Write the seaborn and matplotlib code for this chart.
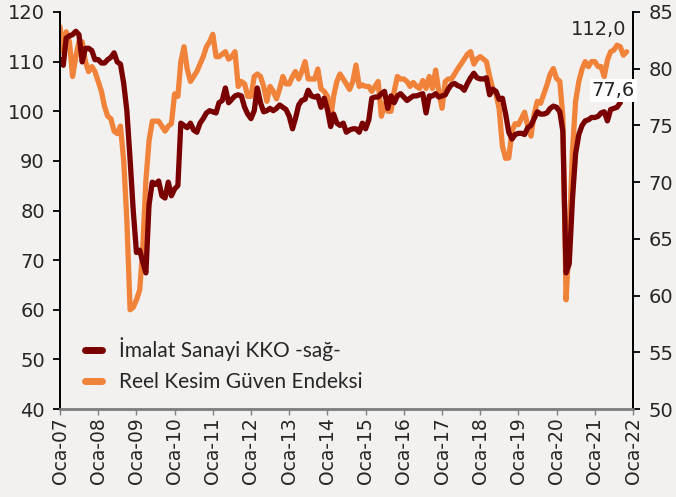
import pandas as pd
import matplotlib.pyplot as plt
import seaborn as sns
from matplotlib.lines import Line2D

# Reel Kesim Güven Endeksi (left axis), monthly Jan-2007 .. Nov-2021
reel_kesim = [
    117, 112, 116, 114, 107, 111, 114, 114, 110, 108, 109, 108,        # 2007
    106, 104, 101, 99, 98.5, 96, 95.5, 97, 90, 78, 60, 60.5,          # 2008
    62, 64, 72, 86, 94, 98, 98, 98, 97, 96, 97, 97.5,                 # 2009
    103.5, 103, 110, 113, 108.5, 106, 107, 108, 109.5, 111, 113, 114,  # 2010
    115.5, 111, 111, 111.5, 112, 110.5, 111, 112, 105, 106, 105.5, 103,  # 2011
    103, 107, 107.5, 107, 105, 102, 105, 104, 102.5, 104.5, 107, 105.5,  # 2012
    105.5, 107, 108, 106.5, 108, 110, 106.5, 106.5, 106.5, 108.5, 104.5, 104,  # 2013
    103, 98.6, 103, 106, 107.5, 106.5, 105.5, 104.4, 106, 109.3, 105, 105.3,  # 2014
    105, 105, 104, 105, 106, 99, 101.5, 100, 100, 104, 107, 106.5,     # 2015
    106.5, 106, 105, 105.8, 105, 104.6, 106.2, 104.6, 107, 104.6, 108.3, 104,  # 2016
    100.6, 106, 106.5, 106.5, 107.5, 108.6, 109.5, 110.5, 111.5, 112, 109.5, 110.5,  # 2017
    111, 110.5, 110, 107, 104.5, 103.5, 100.5, 93, 90.5, 90.6, 96, 97.5,  # 2018
    97.3, 98.6, 99.8, 97, 95, 99.4, 102, 101.6, 103.5, 105.3, 107.5, 108.6,  # 2019
    106.6, 106, 99, 62, 74, 92, 102, 106, 108.5, 110, 109, 110,       # 2020
    110, 109, 109, 107, 110.3, 112, 112.3, 113.3, 113, 111.3, 112.0,  # 2021
]

# İmalat Sanayi KKO (right axis), monthly Jan-2007 .. Sep-2021
kko = [
    80.8, 80.3, 82.7, 82.9, 83, 83.3, 83, 80.6, 81.8, 81.8, 81.6, 80.8,  # 2007
    80.8, 80.5, 80.5, 80.8, 81, 81.4, 80.6, 80.4, 78.7, 76.3, 72, 67.5,  # 2008
    63.8, 64, 63, 62, 68, 70, 69.8, 70.1, 68.8, 68.6, 70, 68.8,       # 2009
    69.4, 69.7, 75.2, 75, 74.8, 75.2, 74.6, 74.4, 75.2, 75.6, 76.1, 76.3,  # 2010
    76.2, 76.1, 77, 77.2, 78.3, 77, 77.3, 77.6, 77.7, 77.6, 76.6, 76,  # 2011
    75.6, 76.3, 78.3, 77, 76.2, 76.3, 76.5, 76.3, 76.5, 76.8, 76.6, 76.4,  # 2012
    75.8, 74.7, 75.6, 76.8, 77.2, 77.3, 78.1, 77.6, 77.5, 77.6, 76.6, 77.4,  # 2013
    76.4, 74.9, 76, 75.2, 75, 75.2, 74.4, 74.6, 74.7, 74.7, 74.4, 75.2,  # 2014
    74.7, 75.5, 77.4, 77.5, 77.5, 77.8, 78, 76.5, 77.6, 77, 77.6, 77.8,  # 2015
    77.5, 77.2, 77.4, 77.6, 77.6, 77.7, 77.8, 76.1, 77.6, 77.6, 77.8, 77.5,  # 2016
    77.6, 77.7, 78.2, 78.6, 78.7, 78.5, 78.4, 78.1, 78.7, 79.2, 79.6, 79.2,  # 2017
    79.1, 79.1, 79.2, 77.7, 78.2, 78, 77.3, 77.4, 76, 74.4, 73.8, 74.2,  # 2018
    74.3, 74.3, 74.2, 74.8, 75, 75.6, 76.2, 76, 76, 76.1, 76.5, 76.7,  # 2019
    76.6, 76.2, 74.5, 62, 62.8, 68.5, 72.5, 74.2, 75, 75.4, 75.5, 75.7,  # 2020
    75.7, 75.8, 76.1, 76.2, 75.4, 76.4, 76.5, 76.6, 77.0,             # 2021
]

kko_label = "77,6"
reel_label = "112,0"

years = list(range(2007, 2023))
tick_labels = ["Oca-%02d" % (y % 100) for y in years]

name_kko = "İmalat Sanayi KKO -sağ-"
name_reel = "Reel Kesim Güven Endeksi"

color_kko = "#7a0000"
color_reel = "#f0823a"
bg = "#f3f1ef"

sns.set_style("white")
plt.rcParams["font.family"] = ["DejaVu Sans"]

dates_reel = pd.date_range("2007-01-01", periods=len(reel_kesim), freq="MS")
dates_kko = pd.date_range("2007-01-01", periods=len(kko), freq="MS")

fig, ax = plt.subplots(figsize=(6.76, 4.97), dpi=100)
fig.patch.set_facecolor(bg)
ax.set_facecolor(bg)
fig.subplots_adjust(left=0.0888, right=0.9364, top=0.9759, bottom=0.177)

sns.lineplot(x=dates_reel, y=reel_kesim, ax=ax, color=color_reel, linewidth=3.8)

ax2 = ax.twinx()
sns.lineplot(x=dates_kko, y=kko, ax=ax2, color=color_kko, linewidth=3.8)

ax.set_ylim(40, 120)
ax.set_yticks(range(40, 121, 10))
ax2.set_ylim(50, 85)
ax2.set_yticks(range(50, 86, 5))

ticks = pd.to_datetime(["%d-01-01" % y for y in years])
ax.set_xlim(ticks[0], ticks[-1])
ax.set_xticks(ticks)
ax.set_xticklabels(tick_labels, rotation=90)

for a in (ax, ax2):
    a.spines["top"].set_visible(False)
    a.spines["left"].set_color("black")
    a.spines["right"].set_color("black")
    a.spines["left"].set_linewidth(1.3)
    a.spines["right"].set_linewidth(1.3)
    a.spines["bottom"].set_color("#808080")
    a.spines["bottom"].set_linewidth(1.8)

ax.tick_params(axis="y", direction="out", length=5, width=1.3, color="black",
               labelsize=14, left=True, pad=6)
ax2.tick_params(axis="y", direction="out", length=5, width=1.3, color="black",
                labelsize=14, right=True, pad=6)
ax.tick_params(axis="x", direction="out", length=4, width=1, color="#808080",
               labelsize=13.5, bottom=True, pad=2)
ax.set_xlabel("")
ax.set_ylabel("")
ax2.set_ylabel("")

ax.annotate(reel_label, xy=(dates_reel[-1], reel_kesim[-1]), xytext=(-20, 16),
            textcoords="offset points", ha="center", va="center", fontsize=14)
ax2.annotate(kko_label, xy=(dates_kko[-1], kko[-1]), xytext=(-5, 9),
             textcoords="offset points", ha="center", va="center", fontsize=14,
             bbox=dict(boxstyle="square,pad=0.1", fc="white", ec="none"))

handles = [
    Line2D([0], [0], color=color_kko, linewidth=5, solid_capstyle="round"),
    Line2D([0], [0], color=color_reel, linewidth=5, solid_capstyle="round"),
]
leg = ax2.legend(handles, [name_kko, name_reel], loc="lower left",
                 bbox_to_anchor=(0.01, -0.005), frameon=False,
                 prop={"family": "Lato", "size": 15}, handlelength=0.85,
                 handletextpad=0.8, labelspacing=0.55)

fig.savefig("out.png", dpi=100, facecolor=bg)
